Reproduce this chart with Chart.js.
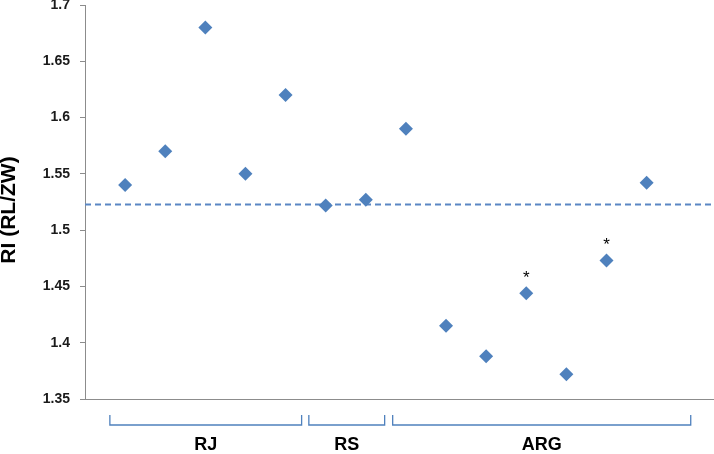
<!DOCTYPE html>
<html>
<head>
<meta charset="utf-8">
<script src="https://cdn.jsdelivr.net/npm/chart.js@4.4.1/dist/chart.umd.min.js"></script>
<style>
  html, body { margin: 0; padding: 0; background: #ffffff; }
  #wrap { width: 714px; height: 454px; position: relative; }
</style>
</head>
<body>
<div id="wrap"><canvas id="c" width="714" height="454"></canvas></div>
<script>
// ---- Data ----
const sampleIndex = [1, 2, 3, 4, 5, 6, 7, 8, 9, 10, 11, 12, 13, 14];
const riValues = [1.540, 1.570, 1.680, 1.550, 1.620, 1.522, 1.527, 1.590, 1.415, 1.388, 1.444, 1.372, 1.473, 1.542];
const meanRI = 1.5227;
const flaggedIndex = [11, 13];           // points marked with "*"
const groupLabels = ['RJ', 'RS', 'ARG'];
const groupStart = [0.62, 5.58, 7.67];    // bracket extents in x units
const groupEnd = [5.40, 7.47, 15.10];
const yTicks = [1.35, 1.4, 1.45, 1.5, 1.55, 1.6, 1.65, 1.7];
const yTitle = 'RI (RL/ZW)';
const xMin = 0, xMax = 15.68;

const points = sampleIndex.map((x, i) => ({ x: x, y: riValues[i] }));
const meanLine = [{ x: xMin, y: meanRI }, { x: xMax, y: meanRI }];

const annotPlugin = {
  id: 'annot',
  afterDraw(chart) {
    const ctx = chart.ctx;
    const xs = chart.scales.x, ys = chart.scales.y;
    // y axis title
    ctx.save();
    ctx.translate(9, (chart.chartArea.top + chart.chartArea.bottom) / 2 + 8);
    ctx.rotate(-Math.PI / 2);
    ctx.fillStyle = '#000000';
    ctx.font = 'bold 21px "Liberation Sans", Arial, sans-serif';
    ctx.textAlign = 'center';
    ctx.textBaseline = 'middle';
    ctx.fillText(yTitle, 0, 0);
    ctx.restore();
    // asterisks
    ctx.save();
    ctx.fillStyle = '#000000';
    ctx.font = '17px "Liberation Sans", Arial, sans-serif';
    ctx.textAlign = 'center';
    ctx.textBaseline = 'middle';
    flaggedIndex.forEach(idx => {
      const i = sampleIndex.indexOf(idx);
      const px = xs.getPixelForValue(sampleIndex[i]);
      const py = ys.getPixelForValue(riValues[i]);
      ctx.fillText('*', px, py - 15);
    });
    ctx.restore();
    // group brackets
    const bottom = chart.chartArea.bottom;
    const top = bottom + 16, low = bottom + 26;
    ctx.save();
    ctx.strokeStyle = '#4F81BD';
    ctx.lineWidth = 1.3;
    ctx.fillStyle = '#000000';
    ctx.font = 'bold 18px "Liberation Sans", Arial, sans-serif';
    ctx.textAlign = 'center';
    ctx.textBaseline = 'middle';
    groupLabels.forEach((lab, i) => {
      const a = xs.getPixelForValue(groupStart[i]);
      const b = xs.getPixelForValue(groupEnd[i]);
      ctx.beginPath();
      ctx.moveTo(a, top);
      ctx.lineTo(a, low);
      ctx.lineTo(b, low);
      ctx.lineTo(b, top);
      ctx.stroke();
      ctx.fillText(lab, (a + b) / 2, bottom + 46);
    });
    ctx.restore();
  }
};

function zeroPad(s) {
  s.paddingTop = 0; s.paddingBottom = 0; s.paddingLeft = 0; s.paddingRight = 0;
}

new Chart(document.getElementById('c'), {
  type: 'scatter',
  data: {
    datasets: [
      {
        label: 'RI',
        data: points,
        pointStyle: 'rectRot',
        pointRadius: 7,
        pointHoverRadius: 7,
        backgroundColor: '#4F81BD',
        borderColor: '#4F81BD',
        borderWidth: 0,
        showLine: false,
        clip: false
      },
      {
        label: 'mean',
        type: 'line',
        data: meanLine,
        borderColor: '#5B87C4',
        borderWidth: 2,
        borderDash: [6, 4],
        pointRadius: 0,
        fill: false
      }
    ]
  },
  plugins: [annotPlugin],
  options: {
    responsive: false,
    animation: false,
    layout: { autoPadding: false, padding: { top: 5, bottom: 55, left: 0, right: 0 } },
    plugins: { legend: { display: false }, tooltip: { enabled: false } },
    scales: {
      x: {
        type: 'linear',
        min: xMin,
        max: xMax,
        ticks: { display: false },
        grid: { display: false },
        border: { display: true, color: '#8C8C8C', width: 1 },
        afterFit(s) { s.height = 0; zeroPad(s); }
      },
      y: {
        min: 1.35,
        max: 1.7,
        afterBuildTicks(s) { s.ticks = yTicks.map(v => ({ value: v })); },
        ticks: {
          padding: 10,
          color: '#1a1a1a',
          font: { family: '"Liberation Sans", Arial, sans-serif', size: 14, weight: 'bold' },
          callback: v => String(+v.toFixed(2))
        },
        grid: { display: true, drawOnChartArea: false, drawTicks: true, tickLength: 5, color: '#8C8C8C' },
        border: { display: true, color: '#8C8C8C', width: 1 },
        title: { display: false },
        afterFit(s) { s.width = 85; zeroPad(s); }
      }
    }
  }
});
</script>
</body>
</html>
